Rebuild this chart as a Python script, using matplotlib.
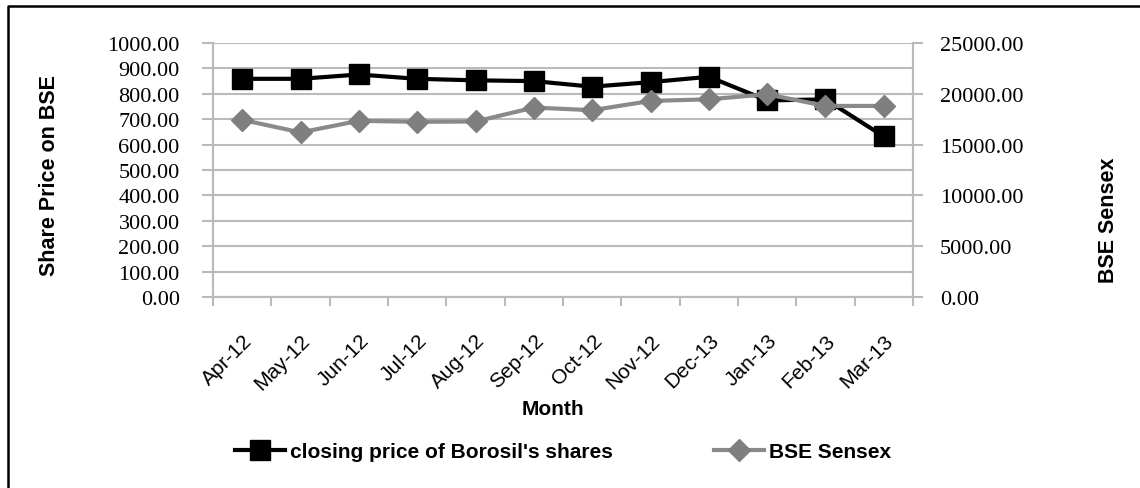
import matplotlib
matplotlib.use("Agg")
import matplotlib.pyplot as plt
from matplotlib.lines import Line2D
import numpy as np

months = ["Apr-12", "May-12", "Jun-12", "Jul-12", "Aug-12", "Sep-12",
          "Oct-12", "Nov-12", "Dec-13", "Jan-13", "Feb-13", "Mar-13"]
borosil_close = [859, 859, 876, 859, 853, 850, 828, 846, 867, 774, 778, 632]
bse_sensex = [17440, 16200, 17340, 17245, 17275, 18645, 18385, 19295, 19460, 19950, 18805, 18805]

left_ticks = list(range(0, 1001, 100))
right_ticks = list(range(0, 25001, 5000))

W, H = 1140, 489
fig = plt.figure(figsize=(W / 100, H / 100), dpi=100)

def fx(px):
    return px / W

def fy(py):
    return 1 - py / H

ax_l, ax_r, ax_t, ax_b = 213, 913, 44, 298
ax = fig.add_axes([fx(ax_l), fy(ax_b), (ax_r - ax_l) / W, (ax_b - ax_t) / H])
ax2 = ax.twinx()

grid_c = "#bababa"
x = np.arange(len(months))

ax.plot(x, borosil_close, color="black", lw=3, marker="s", ms=14.5,
        markeredgecolor="black", markerfacecolor="black", zorder=3)
ax2.plot(x, bse_sensex, color="#8a8a8a", lw=3, marker="D", ms=11.5,
         markeredgecolor="#7f7f7f", markerfacecolor="#7f7f7f", zorder=3)

ax.set_xlim(-0.5, len(months) - 0.5)
ax.set_ylim(0, 1000)
ax2.set_ylim(0, 25000)

serif = "Liberation Serif"
ax.set_yticks(left_ticks)
ax.set_yticklabels([f"{v:.2f}" for v in left_ticks], fontfamily=serif, fontsize=16)
ax2.set_yticks(right_ticks)
ax2.set_yticklabels([f"{v:.2f}" for v in right_ticks], fontfamily=serif, fontsize=16)

ax.tick_params(axis="y", direction="out", length=8, width=1.5, color=grid_c, pad=16)
ax2.tick_params(axis="y", direction="out", length=7.5, width=1.5, color=grid_c, pad=12)

# category labels at centres, tick marks at boundaries
ax.set_xticks(x)
ax.set_xticklabels(months, rotation=45, ha="right", va="top", rotation_mode="anchor",
                   fontfamily="Liberation Sans", fontsize=15)
ax.tick_params(axis="x", which="major", length=0, pad=24)
ax.set_xticks(np.arange(-0.5, len(months), 1.0), minor=True)
ax.tick_params(axis="x", which="minor", direction="out", length=6.5, width=1.5, color=grid_c)

ax.yaxis.grid(True, color=grid_c, lw=1.5)
ax.set_axisbelow(True)
for a in (ax, ax2):
    a.spines["top"].set_visible(False)
    for s in ("left", "right", "bottom"):
        a.spines[s].set_color(grid_c)
        a.spines[s].set_linewidth(1.5)
ax2.patch.set_visible(False)

# axis titles
sans = "Liberation Sans"
fig.text(fx(50), fy(176), "Share Price on BSE", rotation=90, ha="center", va="center",
         fontfamily=sans, fontweight="bold", fontsize=15.5)
fig.text(fx(1108), fy(220), "BSE Sensex", rotation=90, ha="center", va="center",
         fontfamily=sans, fontweight="bold", fontsize=15.5)
fig.text(fx(553), fy(410), "Month", ha="center", va="center",
         fontfamily=sans, fontweight="bold", fontsize=15)

# legend (two entries placed separately)
h1 = Line2D([], [], color="black", lw=3, marker="s", ms=14.5)
h2 = Line2D([], [], color="#8a8a8a", lw=3, marker="D", ms=11.5,
            markerfacecolor="#7f7f7f", markeredgecolor="#7f7f7f")
leg_props = dict(family=sans, weight="bold", size=15)
lg1 = fig.legend([h1], ["closing price of Borosil's shares"], loc="center left",
                 bbox_to_anchor=(fx(235), fy(453)), frameon=False, prop=leg_props,
                 handlelength=2.4, handletextpad=0.25, borderaxespad=0, borderpad=0)
lg2 = fig.legend([h2], ["BSE Sensex"], loc="center left",
                 bbox_to_anchor=(fx(714), fy(453)), frameon=False, prop=leg_props,
                 handlelength=2.4, handletextpad=0.25, borderaxespad=0, borderpad=0)

# outer chart frame (left and top edges visible)
fig.add_artist(Line2D([fx(8), fx(8), 1.0], [0.0, fy(7), fy(7)], transform=fig.transFigure,
                      color="black", lw=1.8))

fig.savefig("out.png", dpi=100)
